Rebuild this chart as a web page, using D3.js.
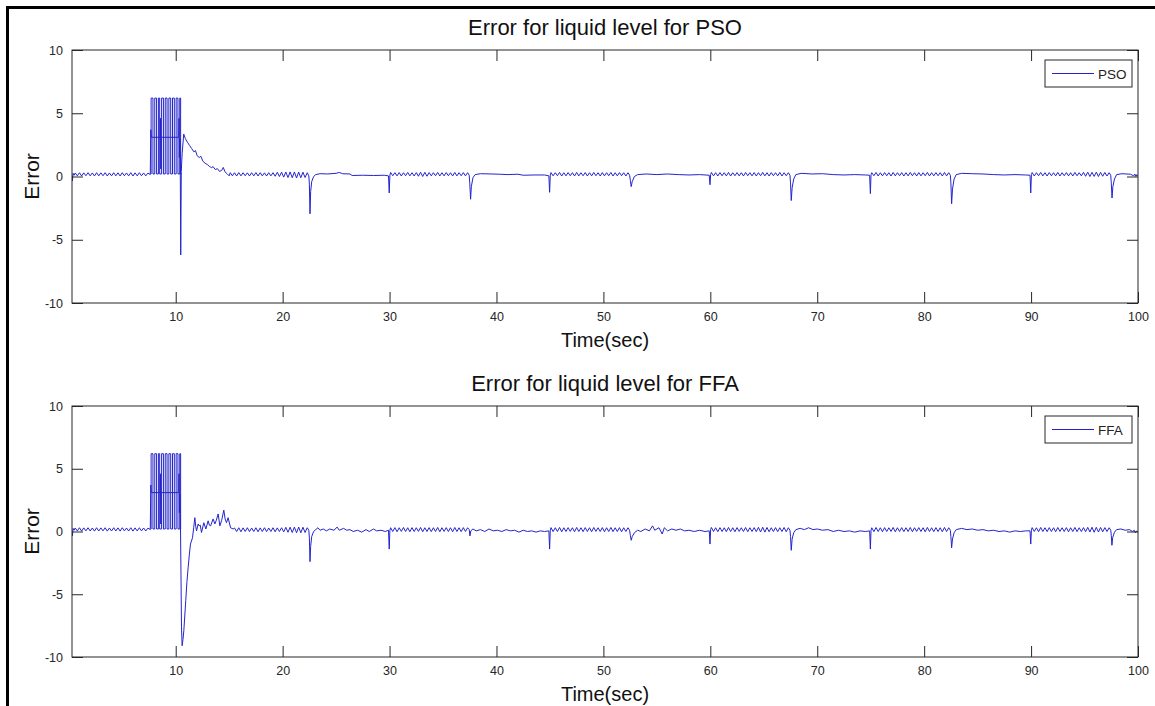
<!DOCTYPE html>
<html>
<head>
<meta charset="utf-8">
<script src="https://cdn.jsdelivr.net/npm/d3@7"></script>
<style>
body { margin: 0; background: #fff; }
svg { display: block; font-family: "Liberation Sans", Arial, sans-serif; }
</style>
</head>
<body>
<script>
// tick values for both panels
var xTicks = [10, 20, 30, 40, 50, 60, 70, 80, 90, 100];
var yTicks = [-10, -5, 0, 5, 10];

// square-wave burst between ~7.7 s and 10.45 s (same in both runs), [time, error] drawn as steps
var burstSteps = [[7.68,0.2],[7.7,6.2],[7.87,0.2],[8.04,6.2],[8.21,0.2],[8.38,6.2],[8.5,0.2],[8.68,6.2],[8.85,0.2],[9.02,6.2],[9.19,0.2],[9.36,6.2],[9.53,0.2],[9.7,6.2],[9.87,0.2],[10.04,6.2],[10.21,0.2],[10.38,6.2],[10.46,0.2],[10.47,0.2]];

// PSO error: main features [time, error]
var psoPoints = [
  [0.3,0.05],[0.34,-0.35],[0.4,0.25],[0.5,0.1],
  [7.62,0.15],[7.67,3.7],[7.72,3.1],[8.55,3.1],[8.57,4.6],[8.6,0.6],[8.63,3.1],[10.28,3.1],[10.31,4.6],[10.34,1.5],[10.38,3.0],[10.42,1.6],[10.47,-6.2],[10.52,0.4],[10.6,1.8],[10.75,3.35],
  [10.9,3.0],[11.1,2.7],[11.3,2.45],[11.5,2.2],[11.7,1.95],[11.85,2.05],[12.0,1.65],[12.2,1.5],[12.35,1.6],[12.55,1.2],[12.75,1.05],[12.95,0.95],[13.15,0.8],[13.35,0.7],[13.5,0.78],[13.7,0.55],[13.9,0.62],[14.1,0.4],[14.3,0.48],[14.45,0.72],[14.6,0.38],[14.8,0.22],[15.0,0.05],
  [22.45,0.05],[22.5,-0.6],[22.56,-2.95],[22.62,-1.2],[22.72,-0.4],[22.9,0.0],[23.1,0.15],[23.5,0.22],[24.2,0.2],[25.0,0.25],[25.3,0.32],[25.6,0.22],[26.3,0.2],[26.5,0.08],[27.5,0.1],[28.5,0.08],[29.5,0.1],[29.9,0.05],
  [29.97,-1.3],[30.03,0.1],
  [37.45,0.1],[37.5,-0.5],[37.58,-1.8],[37.65,-0.8],[37.8,-0.1],[38.0,0.15],[38.5,0.22],[39.5,0.2],[40.3,0.18],[41.0,0.15],[42.0,0.18],[42.5,0.1],[43.5,0.12],[44.5,0.12],[44.9,0.05],
  [44.97,-1.25],[45.03,0.1],
  [52.45,0.1],[52.52,-0.3],[52.6,-0.8],[52.7,-0.4],[52.9,0.0],[53.2,0.15],[54.0,0.2],[55.0,0.15],[56.0,0.2],[57.0,0.15],[58.0,0.12],[59.0,0.15],[59.9,0.1],
  [59.97,-0.65],[60.03,0.15],
  [67.45,0.1],[67.5,-0.5],[67.57,-1.9],[67.65,-0.9],[67.8,-0.2],[68.0,0.15],[68.5,0.25],[69.5,0.2],[70.5,0.22],[71.5,0.15],[72.5,0.12],[73.5,0.15],[74.5,0.12],[74.9,0.1],
  [74.97,-1.35],[75.03,0.15],
  [82.45,0.1],[82.5,-0.5],[82.57,-2.15],[82.65,-1.0],[82.8,-0.2],[83.0,0.15],[83.5,0.25],[84.5,0.22],[85.5,0.2],[86.5,0.15],[87.5,0.12],[88.5,0.15],[89.5,0.12],[89.9,0.1],
  [89.97,-1.3],[90.03,0.15],
  [97.45,0.1],[97.5,-0.5],[97.57,-1.7],[97.65,-0.8],[97.8,-0.2],[98.0,0.15],[98.5,0.22],[99.3,0.18],[99.6,0.05],[99.7,0.2],[99.8,0.0],[99.9,0.15],[100,0.05]
];

// PSO ripple stretches, sampled every 0.2 s from the start time
var rippleStep = 0.2;
var psoRippleStart = [0.6, 15.1, 30.1, 45.1, 60.1, 75.1, 90.1];
var psoRipple = [
  [.28,.05,.3,.04,.29,.06,.3,.05,.28,.04,.3,.05,.29,.06,.3,.04,.28,.05,.3,.05,.29,.04,.3,.06,.28,.05,.3,.04,.29,.05,.3,.06,.28,.05,.27],
  [.3,.05,.3,.04,.31,.05,.3,.06,.29,.04,.3,.05,.31,.04,.3,.05,.29,.04,.3,.05,.3,.02,.33,0,.34,-.05,.35,-.08,.36,-.1,.36,-.12,.35,-.1,.34,-.08,.3],
  [.32,.06,.3,.05,.31,.04,.3,.06,.32,.05,.3,.04,.31,.02,.34,0,.33,.02,.31,.05,.3,.06,.32,.04,.3,.05,.31,.06,.3,.04,.32,.05,.3,.06,.31,.05,.3],
  [.31,.05,.3,.06,.32,.04,.3,.05,.31,.06,.3,.04,.32,.05,.3,.06,.31,.04,.3,.05,.32,.06,.3,.04,.31,.05,.3,.06,.32,.04,.3,.05,.31,.06,.3,.04,.3],
  [.32,.05,.3,.04,.31,.06,.3,.05,.32,.04,.3,.06,.31,.05,.3,.04,.32,.06,.3,.05,.31,.04,.3,.06,.32,.05,.3,.04,.31,.06,.3,.05,.32,.04,.3,.06,.3],
  [.3,.06,.32,.04,.3,.05,.31,.06,.3,.04,.32,.05,.3,.06,.31,.04,.3,.05,.32,.06,.3,.04,.31,.05,.3,.06,.32,.04,.3,.05,.31,.06,.3,.04,.32,.05,.3],
  [.31,.04,.3,.06,.32,.05,.3,.04,.31,.06,.3,.05,.32,.04,.3,.06,.31,.05,.3,.04,.32,.06,.3,.05,.33,.02,.34,0,.33,.01,.34,0,.33,.02,.32,.04,.3]
];

// FFA error: main features [time, error]
var ffaPoints = [
  [0.3,0.05],[0.34,-0.35],[0.4,0.25],[0.5,0.1],
  [7.62,0.15],[7.67,3.7],[7.72,3.1],[8.55,3.1],[8.57,4.6],[8.6,0.6],[8.63,3.1],[10.28,3.1],[10.31,4.6],[10.34,1.5],[10.38,3.0],[10.42,1.6],[10.45,0.2],
  [10.5,-4.0],[10.54,-7.6],[10.6,-9.1],[10.68,-8.6],[10.76,-7.9],[10.94,-5.5],[11.05,-4.0],[11.16,-2.9],[11.28,-1.8],[11.38,-1.0],[11.57,-0.5],[11.68,0.3],[11.79,1.1],[11.87,0.4],[11.95,0.05],[12.1,0.6],[12.19,0.45],[12.3,0.5],[12.41,-0.08],[12.63,0.7],[12.82,0.2],[13.03,0.85],[13.15,0.5],[13.26,0.45],[13.5,1.0],[13.66,0.6],[13.8,0.9],[13.97,1.4],[14.13,0.45],[14.3,0.9],[14.5,1.7],[14.62,1.0],[14.75,0.7],[14.9,1.1],[15.13,0.3],[15.37,0.2],
  [22.45,0.1],[22.5,-0.5],[22.56,-2.4],[22.62,-1.2],[22.72,-0.4],[22.9,0.0],[23.1,0.15],[23.3,0.3],[23.5,0.1],[23.8,0.2],[24.1,0.05],[24.4,0.2],[24.8,0.1],[25.1,0.35],[25.3,0.1],[25.7,0.25],[26.0,0.1],[26.3,0.15],[26.6,0.0],[27.0,0.1],[27.4,-0.05],[27.8,0.15],[28.1,0.0],[28.5,0.2],[28.8,0.05],[29.2,0.1],[29.6,0.0],[29.9,0.1],
  [29.97,-1.4],[30.03,0.1],
  [37.45,0.15],[37.52,-0.35],[37.6,0.05],[37.8,0.2],[38.1,0.05],[38.5,0.15],[38.9,0.0],[39.3,0.2],[39.7,0.05],[40.1,0.1],[40.5,0.0],[40.9,0.15],[41.3,0.05],[41.7,0.1],[42.1,-0.05],[42.5,0.1],[42.9,0.0],[43.3,0.05],[43.7,-0.05],[44.1,0.05],[44.5,0.0],[44.9,0.05],
  [44.97,-1.4],[45.03,0.1],
  [52.45,0.1],[52.52,-0.3],[52.6,-0.7],[52.7,-0.4],[52.9,-0.1],[53.2,0.1],[53.5,0.0],[53.9,0.2],[54.3,0.05],[54.6,0.45],[54.8,0.1],[55.2,0.3],[55.5,-0.2],[55.7,0.3],[56.0,0.05],[56.4,0.2],[56.8,0.1],[57.2,0.2],[57.6,0.05],[58.0,0.1],[58.5,0.0],[59.0,0.1],[59.5,0.0],[59.9,0.05],
  [59.97,-1.0],[60.03,0.15],
  [67.45,0.1],[67.5,-0.4],[67.57,-1.5],[67.65,-0.6],[67.8,-0.1],[68.0,0.15],[68.4,0.25],[68.8,0.15],[69.2,0.3],[69.6,0.15],[70.0,0.2],[70.5,0.1],[71.0,0.15],[71.5,0.0],[72.0,0.1],[72.5,0.0],[73.0,0.05],[73.5,-0.05],[74.0,0.05],[74.5,0.0],[74.9,0.05],
  [74.97,-1.4],[75.03,0.1],
  [82.45,0.1],[82.5,-0.4],[82.57,-1.3],[82.65,-0.6],[82.8,-0.1],[83.0,0.15],[83.5,0.25],[84.0,0.15],[84.5,0.2],[85.0,0.1],[85.5,0.15],[86.0,0.05],[86.5,0.1],[87.0,0.0],[87.5,0.05],[88.0,-0.05],[88.5,0.05],[89.0,0.0],[89.5,0.05],[89.9,0.05],
  [89.97,-1.0],[90.03,0.1],
  [97.45,0.1],[97.5,-0.3],[97.56,-1.1],[97.63,-0.5],[97.8,-0.05],[98.0,0.15],[98.4,0.2],[98.8,0.1],[99.2,0.15],[99.5,0.0],[99.65,0.1],[99.75,-0.1],[99.85,0.05],[99.95,-0.05],[100,0.05]
];

// FFA ripple stretches, sampled every 0.2 s from the start time
var ffaRippleStart = [0.6, 15.5, 30.1, 45.1, 60.1, 75.1, 90.1];
var ffaRipple = [
  [.28,.04,.3,.03,.29,.05,.3,.04,.28,.03,.3,.04,.29,.05,.3,.03,.28,.04,.3,.04,.29,.03,.3,.05,.28,.04,.3,.03,.29,.04,.3,.05,.28,.04,.27],
  [.28,0,.3,-.02,.29,0,.3,-.01,.28,0,.3,-.02,.29,0,.3,-.01,.28,0,.3,-.02,.29,0,.3,-.03,.33,-.06,.34,-.08,.35,-.1,.35,-.1,.34,-.08,.3],
  [.3,0,.31,-.02,.3,.01,.32,0,.3,-.02,.31,0,.3,.01,.32,-.02,.3,0,.31,-.01,.3,0,.32,-.02,.3,.01,.31,0,.3,-.02,.32,0,.3,-.01,.31,0,.3],
  [.31,-.01,.3,0,.32,-.02,.3,0,.31,.01,.3,-.02,.32,0,.3,-.01,.31,0,.3,-.02,.32,.01,.3,0,.31,-.02,.3,0,.32,-.01,.3,0,.31,-.02,.3,0,.3],
  [.32,0,.3,-.02,.31,0,.3,-.01,.32,0,.3,-.02,.31,.01,.3,0,.32,-.02,.3,0,.31,-.01,.33,-.04,.34,-.05,.32,-.02,.3,0,.31,-.01,.3,0,.32,-.02,.3],
  [.3,-.01,.32,0,.3,-.02,.31,0,.3,.01,.32,-.02,.3,0,.31,-.01,.3,0,.32,-.02,.3,.01,.31,0,.3,-.02,.32,0,.3,-.01,.31,0,.3,-.02,.32,0,.3],
  [.31,0,.3,-.02,.32,0,.3,-.01,.31,0,.3,-.02,.32,.01,.3,0,.31,-.02,.3,0,.32,-.01,.3,0,.31,-.02,.33,-.04,.34,-.06,.33,-.04,.32,-.02,.31,0,.3]
];

var width = 1155;
var height = 706;
var left = 72;
var right = 1138;
var lineColor = "#2424cc";
var axisColor = "#262626";

var svg = d3.select("body").append("svg")
  .attr("width", width)
  .attr("height", height);

// frame of the original screenshot (top and left edges only)
svg.append("path")
  .attr("d", "M7.5," + height + "V7.5H" + width)
  .attr("fill", "none")
  .attr("stroke", "#000")
  .attr("stroke-width", 3);

var panels = [
  { title: "Error for liquid level for PSO", name: "PSO", top: 50, bottom: 303, points: psoPoints, starts: psoRippleStart, ripple: psoRipple },
  { title: "Error for liquid level for FFA", name: "FFA", top: 406, bottom: 657, points: ffaPoints, starts: ffaRippleStart, ripple: ffaRipple }
];

var xScale = d3.scaleLinear().domain([0.3, 100]).range([left, right]);

// plain hyphen minus like the original labels
var plainNumber = function(d) { return String(d); };

panels.forEach(function(p, k) {
  var yScale = d3.scaleLinear().domain([-10, 10]).range([p.bottom, p.top]);

  // join feature points and ripple samples into one time series
  var series = p.points.slice();
  p.starts.forEach(function(t0, i) {
    p.ripple[i].forEach(function(v, j) { series.push([t0 + j * rippleStep, v]); });
  });
  series.sort(function(a, b) { return a[0] - b[0]; });

  var clipId = "clip" + k;
  svg.append("clipPath").attr("id", clipId)
    .append("rect")
    .attr("x", left).attr("y", p.top)
    .attr("width", right - left).attr("height", p.bottom - p.top);

  var line = d3.line()
    .x(function(d) { return xScale(d[0]); })
    .y(function(d) { return yScale(d[1]); });

  var plot = svg.append("g").attr("clip-path", "url(#" + clipId + ")");

  plot.append("path")
    .datum(burstSteps)
    .attr("d", line.curve(d3.curveStepAfter))
    .attr("fill", "none")
    .attr("stroke", lineColor)
    .attr("stroke-width", 1);

  plot.append("path")
    .datum(series)
    .attr("d", line.curve(d3.curveLinear))
    .attr("fill", "none")
    .attr("stroke", lineColor)
    .attr("stroke-width", 1);

  // axes with inward ticks on all four sides
  function style(g) {
    g.select(".domain").remove();
    g.attr("font-family", null).attr("font-size", 12.5).attr("color", axisColor);
  }
  svg.append("g").attr("transform", "translate(0," + p.bottom + ")")
    .call(d3.axisBottom(xScale).tickValues(xTicks).tickSize(-11).tickPadding(9).tickFormat(plainNumber))
    .call(style);
  svg.append("g").attr("transform", "translate(0," + p.top + ")")
    .call(d3.axisTop(xScale).tickValues(xTicks).tickSize(-11).tickFormat(""))
    .call(style);
  svg.append("g").attr("transform", "translate(" + left + ",0)")
    .call(d3.axisLeft(yScale).tickValues(yTicks).tickSize(-11).tickPadding(9).tickFormat(plainNumber))
    .call(style);
  svg.append("g").attr("transform", "translate(" + right + ",0)")
    .call(d3.axisRight(yScale).tickValues(yTicks).tickSize(-11).tickFormat(""))
    .call(style);

  svg.append("rect")
    .attr("x", left).attr("y", p.top)
    .attr("width", right - left).attr("height", p.bottom - p.top)
    .attr("fill", "none")
    .attr("stroke", axisColor)
    .attr("stroke-width", 1);

  // labels
  svg.append("text")
    .attr("x", (left + right) / 2).attr("y", p.top - 15)
    .attr("text-anchor", "middle")
    .attr("font-size", 22)
    .attr("fill", "#111")
    .text(p.title);

  svg.append("text")
    .attr("x", (left + right) / 2).attr("y", p.bottom + 44)
    .attr("text-anchor", "middle")
    .attr("font-size", 20)
    .attr("fill", "#111")
    .text("Time(sec)");

  svg.append("text")
    .attr("transform", "translate(39," + (p.top + p.bottom) / 2 + ") rotate(-90)")
    .attr("text-anchor", "middle")
    .attr("font-size", 21)
    .attr("fill", "#111")
    .text("Error");

  // legend
  var lg = svg.append("g").attr("transform", "translate(1045," + (p.top + 10) + ")");
  lg.append("rect")
    .attr("width", 87).attr("height", 27)
    .attr("fill", "#fff")
    .attr("stroke", axisColor)
    .attr("stroke-width", 1);
  lg.append("line")
    .attr("x1", 7).attr("x2", 49)
    .attr("y1", 13.5).attr("y2", 13.5)
    .attr("stroke", lineColor)
    .attr("stroke-width", 1);
  lg.append("text")
    .attr("x", 53).attr("y", 19)
    .attr("font-size", 13.5)
    .attr("fill", "#222")
    .text(p.name);
});
</script>
</body>
</html>
